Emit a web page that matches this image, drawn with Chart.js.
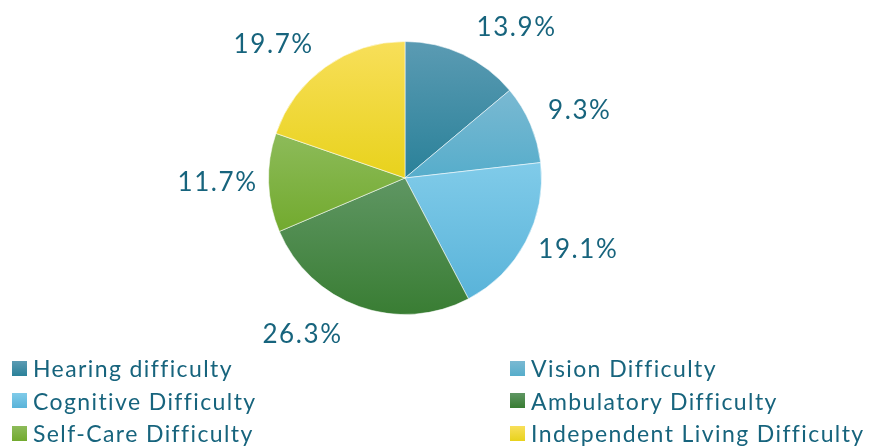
<!DOCTYPE html>
<html>
<head>
<meta charset="utf-8">
<script src="https://cdn.jsdelivr.net/npm/chart.js@4/dist/chart.umd.min.js"></script>
<style>
  html, body { margin: 0; padding: 0; background: #fff; }
  #wrap { position: relative; width: 875px; height: 446px; overflow: hidden; }
  #chartBox { position: absolute; left: 0; top: 0; width: 875px; height: 356px; }
  #legend {
    position: absolute; left: 12px; top: 352px; width: 863px;
    display: grid; grid-template-columns: 498px 365px; row-gap: 0;
    font-family: Lato, 'Open Sans', sans-serif; font-size: 23px; color: #17647d;
    letter-spacing: 1.4px;
  }
  .item { display: flex; align-items: center; height: 32.5px; white-space: nowrap; }
  .swatch { width: 15px; height: 15px; margin-right: 6px; flex: none; }
</style>
</head>
<body>
<div id="wrap">
  <div id="chartBox"><canvas id="pie"></canvas></div>
  <div id="legend"></div>
</div>
<script>
const categories = [
  'Hearing difficulty',
  'Vision Difficulty',
  'Cognitive Difficulty',
  'Ambulatory Difficulty',
  'Self-Care Difficulty',
  'Independent Living Difficulty',
]
const shares = [13.9, 9.3, 19.1, 26.3, 11.7, 19.7]

// top / bottom colour of each slice's vertical gradient
const topColours = ['#5b9bb3', '#7ab9d2', '#80cbe9', '#5f9663', '#8dbb5a', '#f8df5a']
const bottomColours = ['#2a8199', '#56adcb', '#59b3d9', '#397d33', '#72aa2e', '#e8d21c']

// small angle tweaks (degrees) so the outside labels sit where they read best
const labelNudge = [11.5, 2, -5.5, 13.5, 0.5, -9]

function sliceBounds(i, cx, cy, r) {
  const total = shares.reduce((a, b) => a + b, 0)
  let start = -Math.PI / 2
  for (let k = 0; k < i; k++) start += (shares[k] / total) * Math.PI * 2
  const end = start + (shares[i] / total) * Math.PI * 2
  const ys = [cy, cy + r * Math.sin(start), cy + r * Math.sin(end)]
  // include the arc's extreme points when they lie inside the slice
  ;[-Math.PI / 2, Math.PI / 2, (3 * Math.PI) / 2].forEach((a) => {
    if (a >= start && a <= end) ys.push(cy + r * Math.sin(a))
  })
  return { top: Math.min(...ys), bottom: Math.max(...ys) }
}

function sliceFill(context) {
  const { chart, dataIndex } = context
  const area = chart.chartArea
  if (!area) return topColours[dataIndex]
  const cx = (area.left + area.right) / 2
  const cy = (area.top + area.bottom) / 2
  const r = Math.min(area.right - area.left, area.bottom - area.top) / 2
  const b = sliceBounds(dataIndex, cx, cy, r)
  const g = chart.ctx.createLinearGradient(0, b.top, 0, b.bottom)
  g.addColorStop(0, topColours[dataIndex])
  g.addColorStop(1, bottomColours[dataIndex])
  return g
}

const outsideLabels = {
  id: 'outsideLabels',
  afterDatasetsDraw(chart, args, opts) {
    const { ctx } = chart
    const meta = chart.getDatasetMeta(0)
    ctx.save()
    ctx.font = opts.font
    ctx.letterSpacing = opts.letterSpacing
    ctx.fillStyle = opts.color
    ctx.textAlign = 'center'
    ctx.textBaseline = 'middle'
    meta.data.forEach((arc, i) => {
      const mid = (arc.startAngle + arc.endAngle) / 2 + (labelNudge[i] * Math.PI) / 180
      const d = arc.outerRadius + opts.distance
      const x = arc.x + Math.cos(mid) * d
      const y = arc.y + Math.sin(mid) * d
      ctx.fillText(`${shares[i].toFixed(1)}%`, x, y)
    })
    ctx.restore()
  },
}

const chart = new Chart(document.getElementById('pie'), {
  type: 'pie',
  data: {
    labels: categories,
    datasets: [
      {
        data: shares,
        backgroundColor: sliceFill,
        borderColor: 'rgba(255,255,255,0.55)',
        borderWidth: 1,
      },
    ],
  },
  options: {
    responsive: true,
    maintainAspectRatio: false,
    animation: false,
    layout: { padding: { top: 41, bottom: 41, left: 0, right: 65 } },
    plugins: {
      legend: { display: false },
      tooltip: { enabled: false },
      outsideLabels: {
        font: '26px Lato, "Open Sans", sans-serif',
        letterSpacing: '1.6px',
        color: '#17647d',
        distance: 51,
      },
    },
  },
  plugins: [outsideLabels],
})

// legend in two columns, same order as the slices
const legendEl = document.getElementById('legend')
categories.forEach((name, i) => {
  const item = document.createElement('div')
  item.className = 'item'
  const sw = document.createElement('span')
  sw.className = 'swatch'
  sw.style.background = `linear-gradient(${topColours[i]}, ${bottomColours[i]})`
  const txt = document.createElement('span')
  txt.textContent = name
  item.appendChild(sw)
  item.appendChild(txt)
  legendEl.appendChild(item)
})
</script>
</body>
</html>
